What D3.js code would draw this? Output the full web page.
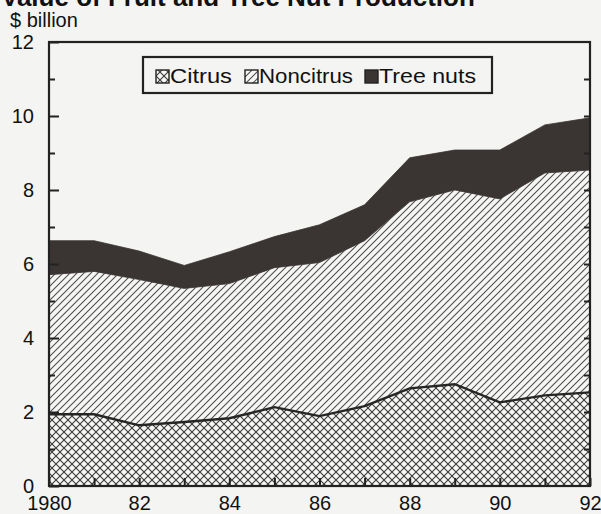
<!DOCTYPE html>
<html><head><meta charset="utf-8">
<script src="https://cdn.jsdelivr.net/npm/d3@7"></script>
<style>
html,body{margin:0;padding:0;background:#f4f4f2;}
svg{display:block;font-family:"Liberation Sans",Arial,Helvetica,sans-serif;}
</style></head>
<body>
<svg id="chart" width="601" height="514"></svg>
<script>
const years = [1980,1981,1982,1983,1984,1985,1986,1987,1988,1989,1990,1991,1992];
const citrus    = [1.94,1.94,1.64,1.73,1.83,2.13,1.89,2.16,2.64,2.75,2.26,2.45,2.53];
const noncitrus = [3.77,3.86,3.94,3.61,3.64,3.77,4.15,4.47,5.04,5.25,5.50,6.01,6.01];
const treeNuts  = [0.92,0.83,0.77,0.62,0.86,0.84,1.02,0.97,1.19,1.08,1.32,1.30,1.41];
const seriesNames = ["Citrus","Noncitrus","Tree nuts"];
const yTicks = [0,2,4,6,8,10,12];
const xLabels = ["1980","82","84","86","88","90","92"];

const svg = d3.select("#chart");
const W = 601, H = 514;
const x = d3.scaleLinear().domain([1980,1992]).range([49,590]);
const y = d3.scaleLinear().domain([0,12]).range([486,42]);

svg.append("rect").attr("width",W).attr("height",H).attr("fill","#f4f4f2");

const defs = svg.append("defs");
const cross = defs.append("pattern").attr("id","cross").attr("patternUnits","userSpaceOnUse")
  .attr("width",8).attr("height",8);
cross.append("rect").attr("width",8).attr("height",8).attr("fill","#f6f6f4");
cross.append("path").attr("d","M0,0L8,8M8,0L0,8").attr("stroke","#3a3a3a").attr("stroke-width",1.1);
const diag = defs.append("pattern").attr("id","diag").attr("patternUnits","userSpaceOnUse")
  .attr("width",7).attr("height",7);
diag.append("rect").attr("width",7).attr("height",7).attr("fill","#f6f6f4");
diag.append("path").attr("d","M0,7L7,0M-1,1L1,-1M6,8L8,6").attr("stroke","#505050").attr("stroke-width",1.1);

const rows = years.map((yr,i)=>({year:yr, Citrus:citrus[i], Noncitrus:noncitrus[i], "Tree nuts":treeNuts[i]}));
const stack = d3.stack().keys(seriesNames)(rows);
const fills = {"Citrus":"url(#cross)","Noncitrus":"url(#diag)","Tree nuts":"#3a3432"};

const area = d3.area().x(d=>x(d.data.year)).y0(d=>y(d[0])).y1(d=>y(d[1]));
svg.append("g").selectAll("path").data(stack).join("path")
  .attr("d",area).attr("fill",d=>fills[d.key])
  .attr("stroke",d=>d.key==="Tree nuts"?"#3a3432":"none").attr("stroke-width",0.8);

// citrus top line
svg.append("path").datum(stack[0])
  .attr("d",d3.line().x(d=>x(d.data.year)).y(d=>y(d[1])))
  .attr("fill","none").attr("stroke","#262626").attr("stroke-width",2.4);

// frame
svg.append("rect").attr("x",x(1980)).attr("y",y(12))
  .attr("width",x(1992)-x(1980)).attr("height",y(0)-y(12))
  .attr("fill","none").attr("stroke","#222").attr("stroke-width",2.2);

// x axis
const labelMap = {};
years.forEach((yr,i)=>{ if(i%2===0) labelMap[yr]=xLabels[i/2]; });
const xAxis = d3.axisBottom(x).tickValues(years).tickSizeInner(-8).tickSizeOuter(0)
  .tickPadding(10).tickFormat(d=>labelMap[d]||"");
const gx = svg.append("g").attr("transform",`translate(0,${y(0)})`).call(xAxis);
gx.select(".domain").remove();
gx.selectAll("line").attr("stroke","#222").attr("stroke-width",2);
gx.selectAll("text").attr("font-size",20).attr("fill","#111");

// y axis major
const yAxis = d3.axisLeft(y).tickValues(yTicks).tickSizeInner(-10).tickSizeOuter(0).tickPadding(15)
  .tickFormat(d3.format("d"));
const gy = svg.append("g").attr("transform",`translate(${x(1980)},0)`).call(yAxis);
gy.select(".domain").remove();
gy.selectAll("line").attr("stroke","#222").attr("stroke-width",2);
gy.selectAll("text").attr("font-size",20).attr("fill","#111");
// y axis minor
const minor = d3.range(1,12,2);
const gym = svg.append("g").attr("transform",`translate(${x(1980)},0)`)
  .call(d3.axisLeft(y).tickValues(minor).tickSizeInner(-6).tickSizeOuter(0).tickFormat(""));
gym.select(".domain").remove();
gym.selectAll("line").attr("stroke","#222").attr("stroke-width",2);
// right ticks
const gr = svg.append("g").attr("transform",`translate(${x(1992)},0)`)
  .call(d3.axisRight(y).tickValues(d3.range(1,12)).tickSizeInner(-6).tickSizeOuter(0).tickFormat(""));
gr.select(".domain").remove();
gr.selectAll("line").attr("stroke","#222").attr("stroke-width",2);

// title & unit
svg.append("text").attr("x",1).attr("y",6).attr("font-size",26).attr("font-weight","bold")
  .attr("fill","#111").text("Value of Fruit and Tree Nut Production");
svg.append("text").attr("x",10).attr("y",27).attr("font-size",20).attr("fill","#111").text("$ billion");

// legend
const lg = svg.append("g");
lg.append("rect").attr("x",143).attr("y",57).attr("width",349).attr("height",36)
  .attr("fill","#f4f4f2").attr("stroke","#222").attr("stroke-width",2.2);
const legendItems = [
  {name:seriesNames[0], sx:156, tx:170, tw:62},
  {name:seriesNames[1], sx:245, tx:259, tw:94},
  {name:seriesNames[2], sx:365, tx:379, tw:97}
];
legendItems.forEach(it=>{
  lg.append("rect").attr("x",it.sx).attr("y",70).attr("width",13).attr("height",13)
    .attr("fill",fills[it.name]).attr("stroke","#222").attr("stroke-width",1.4);
  lg.append("text").attr("x",it.tx).attr("y",83).attr("font-size",20).attr("fill","#111")
    .attr("textLength",it.tw).attr("lengthAdjust","spacingAndGlyphs").text(it.name);
});
</script>
</body></html>
